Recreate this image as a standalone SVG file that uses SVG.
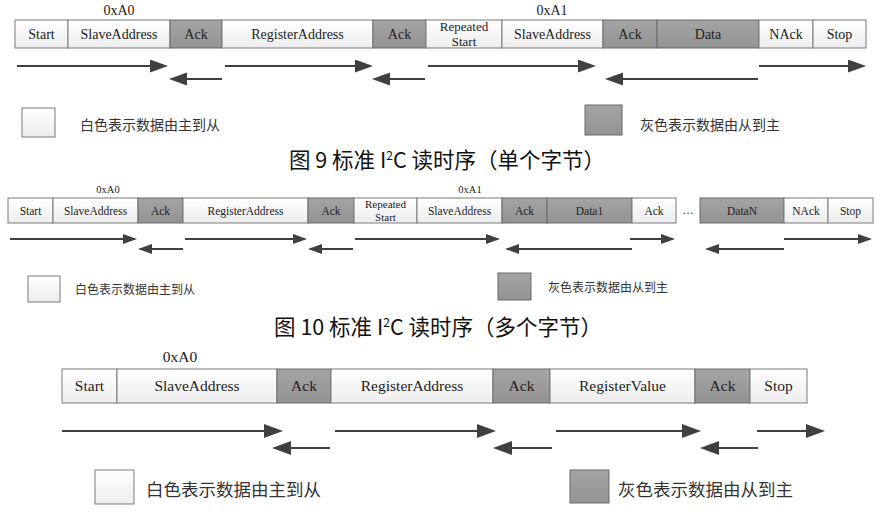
<svg xmlns="http://www.w3.org/2000/svg" width="885" height="513" viewBox="0 0 885 513">
<style>
.w{fill:url(#gw);stroke:#7a7a7a;stroke-width:1}
.g{fill:url(#gg);stroke:#6a6a6a;stroke-width:1}
.t1{font-family:"Liberation Serif",serif;font-size:14px;fill:#222;text-anchor:middle}
.t2{font-family:"Liberation Serif",serif;font-size:11.5px;fill:#222;text-anchor:middle}
.t3{font-family:"Liberation Serif",serif;font-size:15.5px;fill:#222;text-anchor:middle}
.lg1{font-family:"Noto Sans CJK SC",sans-serif;font-size:14px;fill:#333}
.lg2{font-family:"Noto Sans CJK SC",sans-serif;font-size:12px;fill:#333}
.lg3{font-family:"Noto Sans CJK SC",sans-serif;font-size:17.5px;fill:#333}
.cap{font-family:"Noto Sans CJK SC",sans-serif;font-size:21.5px;fill:#111;text-anchor:middle}
.a1{stroke:#404040;stroke-width:2;fill:none;marker-end:url(#h1)}
.a2{stroke:#404040;stroke-width:1.8;fill:none;marker-end:url(#h2)}
.a3{stroke:#404040;stroke-width:2.2;fill:none;marker-end:url(#h3)}
</style>
<defs>
<linearGradient id="gw" x1="0" y1="0" x2="0" y2="1"><stop offset="0" stop-color="#ffffff"/><stop offset="1" stop-color="#ededed"/></linearGradient>
<linearGradient id="gg" x1="0" y1="0" x2="0" y2="1"><stop offset="0" stop-color="#a4a4a4"/><stop offset="1" stop-color="#939393"/></linearGradient>
<marker id="h1" markerUnits="userSpaceOnUse" markerWidth="19" markerHeight="14" refX="15" refY="6.5" orient="auto"><path d="M0,0 L18,6.5 L0,13 z" fill="#404040"/></marker>
<marker id="h2" markerUnits="userSpaceOnUse" markerWidth="15" markerHeight="11" refX="12" refY="5" orient="auto"><path d="M0,0 L14,5 L0,10 z" fill="#404040"/></marker>
<marker id="h3" markerUnits="userSpaceOnUse" markerWidth="20" markerHeight="15" refX="16" refY="7" orient="auto"><path d="M0,0 L19,7 L0,14 z" fill="#404040"/></marker>
</defs>

<!-- Figure 9 -->
<g id="fig9">
<text class="t1" x="119" y="15">0xA0</text>
<text class="t1" x="552" y="15">0xA1</text>
<g id="f9-start"><rect class="w" x="15" y="20" width="53" height="28"/><text class="t1" x="41.5" y="39">Start</text></g>
<g id="f9-slave1"><rect class="w" x="68" y="20" width="102" height="28"/><text class="t1" x="119" y="39">SlaveAddress</text></g>
<g id="f9-ack1"><rect class="g" x="170" y="20" width="52" height="28"/><text class="t1" x="196" y="39">Ack</text></g>
<g id="f9-reg"><rect class="w" x="222" y="20" width="151" height="28"/><text class="t1" x="297.5" y="39">RegisterAddress</text></g>
<g id="f9-ack2"><rect class="g" x="373" y="20" width="53" height="28"/><text class="t1" x="399.5" y="39">Ack</text></g>
<g id="f9-rs"><rect class="w" x="426" y="20" width="76" height="28"/><text class="t1" x="464" y="31" style="font-size:13px">Repeated</text><text class="t1" x="464" y="45.5" style="font-size:13px">Start</text></g>
<g id="f9-slave2"><rect class="w" x="502" y="20" width="101" height="28"/><text class="t1" x="552.5" y="39">SlaveAddress</text></g>
<g id="f9-ack3"><rect class="g" x="603" y="20" width="54" height="28"/><text class="t1" x="630" y="39">Ack</text></g>
<g id="f9-data"><rect class="g" x="657" y="20" width="102" height="28"/><text class="t1" x="708" y="39">Data</text></g>
<g id="f9-nack"><rect class="w" x="759" y="20" width="54" height="28"/><text class="t1" x="786" y="39">NAck</text></g>
<g id="f9-stop"><rect class="w" x="813" y="20" width="53" height="28"/><text class="t1" x="839.5" y="39">Stop</text></g>
<g id="f9-leg-w"><rect class="w" x="22" y="108" width="33" height="29"/><text class="lg1" x="80" y="130">白色表示数据由主到从</text></g>
<g id="f9-leg-g"><rect class="g" x="585" y="105" width="37" height="30"/><text class="lg1" x="640" y="130">灰色表示数据由从到主</text></g>
<text class="cap" x="447" y="168">图 9 标准 I<tspan dy="-8" style="font-size:12px">2</tspan><tspan dy="8">C 读时序（单个字节）</tspan></text>
</g>
<g id="f9-connectors">
<line class="a1" x1="17" y1="66" x2="165" y2="66"/>
<line class="a1" x1="225" y1="66" x2="370" y2="66"/>
<line class="a1" x1="428" y1="66" x2="593" y2="66"/>
<line class="a1" x1="759" y1="66" x2="863" y2="66"/>
<line class="a1" x1="222" y1="79" x2="172" y2="79"/>
<line class="a1" x1="425" y1="79" x2="375" y2="79"/>
<line class="a1" x1="758" y1="79" x2="608" y2="79"/>
</g>

<!-- Figure 10 -->
<g id="fig10">
<text class="t2" x="108" y="193" style="font-size:10.5px">0xA0</text>
<text class="t2" x="470" y="193" style="font-size:10.5px">0xA1</text>
<g id="f10-start"><rect class="w" x="8" y="198" width="45" height="25"/><text class="t2" x="30.5" y="215">Start</text></g>
<g id="f10-slave1"><rect class="w" x="53" y="198" width="85" height="25"/><text class="t2" x="95.5" y="215">SlaveAddress</text></g>
<g id="f10-ack1"><rect class="g" x="138" y="198" width="45" height="25"/><text class="t2" x="160.5" y="215">Ack</text></g>
<g id="f10-reg"><rect class="w" x="183" y="198" width="125" height="25"/><text class="t2" x="245.5" y="215">RegisterAddress</text></g>
<g id="f10-ack2"><rect class="g" x="308" y="198" width="46" height="25"/><text class="t2" x="331" y="215">Ack</text></g>
<g id="f10-rs"><rect class="w" x="354" y="198" width="63" height="25"/><text class="t2" x="385.5" y="208" style="font-size:11px">Repeated</text><text class="t2" x="385.5" y="221" style="font-size:11px">Start</text></g>
<g id="f10-slave2"><rect class="w" x="417" y="198" width="85" height="25"/><text class="t2" x="459.5" y="215">SlaveAddress</text></g>
<g id="f10-ack3"><rect class="g" x="502" y="198" width="45" height="25"/><text class="t2" x="524.5" y="215">Ack</text></g>
<g id="f10-data1"><rect class="g" x="547" y="198" width="85" height="25"/><text class="t2" x="589.5" y="215">Data1</text></g>
<g id="f10-ack4"><rect class="w" x="632" y="198" width="44" height="25"/><text class="t2" x="654" y="215">Ack</text></g>
<text class="t2" x="688" y="214">…</text>
<g id="f10-datan"><rect class="g" x="700" y="198" width="84" height="25"/><text class="t2" x="742" y="215">DataN</text></g>
<g id="f10-nack"><rect class="w" x="784" y="198" width="44" height="25"/><text class="t2" x="806" y="215">NAck</text></g>
<g id="f10-stop"><rect class="w" x="828" y="198" width="45" height="25"/><text class="t2" x="850.5" y="215">Stop</text></g>
<g id="f10-leg-w"><rect class="w" x="28" y="276" width="32" height="26"/><text class="lg2" x="75" y="294">白色表示数据由主到从</text></g>
<g id="f10-leg-g"><rect class="g" x="498" y="273" width="33" height="27"/><text class="lg2" x="548" y="292">灰色表示数据由从到主</text></g>
<text class="cap" x="438" y="335">图 10 标准 I<tspan dy="-8" style="font-size:12px">2</tspan><tspan dy="8">C 读时序（多个字节）</tspan></text>
</g>
<g id="f10-connectors">
<line class="a2" x1="10" y1="239" x2="135" y2="239"/>
<line class="a2" x1="185" y1="239" x2="305" y2="239"/>
<line class="a2" x1="355" y1="239" x2="498" y2="239"/>
<line class="a2" x1="630" y1="239" x2="673" y2="239"/>
<line class="a2" x1="784" y1="239" x2="870" y2="239"/>
<line class="a2" x1="183" y1="249" x2="140" y2="249"/>
<line class="a2" x1="353" y1="249" x2="310" y2="249"/>
<line class="a2" x1="632" y1="249" x2="507" y2="249"/>
<line class="a2" x1="784" y1="249" x2="707" y2="249"/>
</g>

<!-- Figure: write -->
<g id="fig11">
<text class="t3" x="180" y="362">0xA0</text>
<g id="f11-start"><rect class="w" x="62" y="369" width="55" height="34"/><text class="t3" x="89.5" y="391">Start</text></g>
<g id="f11-slave"><rect class="w" x="117" y="369" width="160" height="34"/><text class="t3" x="197" y="391">SlaveAddress</text></g>
<g id="f11-ack1"><rect class="g" x="277" y="369" width="54" height="34"/><text class="t3" x="304" y="391">Ack</text></g>
<g id="f11-reg"><rect class="w" x="331" y="369" width="162" height="34"/><text class="t3" x="412" y="391">RegisterAddress</text></g>
<g id="f11-ack2"><rect class="g" x="493" y="369" width="57" height="34"/><text class="t3" x="521.5" y="391">Ack</text></g>
<g id="f11-val"><rect class="w" x="550" y="369" width="145" height="34"/><text class="t3" x="622.5" y="391">RegisterValue</text></g>
<g id="f11-ack3"><rect class="g" x="695" y="369" width="55" height="34"/><text class="t3" x="722.5" y="391">Ack</text></g>
<g id="f11-stop"><rect class="w" x="750" y="369" width="57" height="34"/><text class="t3" x="778.5" y="391">Stop</text></g>
<g id="f11-leg-w"><rect class="w" x="95" y="470" width="39" height="34"/><text class="lg3" x="146" y="496">白色表示数据由主到从</text></g>
<g id="f11-leg-g"><rect class="g" x="570" y="470" width="39" height="33"/><text class="lg3" x="618" y="496">灰色表示数据由从到主</text></g>
</g>
<g id="f11-connectors">
<line class="a3" x1="62" y1="431" x2="280" y2="431"/>
<line class="a3" x1="335" y1="431" x2="493" y2="431"/>
<line class="a3" x1="556" y1="431" x2="698" y2="431"/>
<line class="a3" x1="757" y1="431" x2="822" y2="431"/>
<line class="a3" x1="330" y1="448" x2="275" y2="448"/>
<line class="a3" x1="552" y1="448" x2="496" y2="448"/>
<line class="a3" x1="758" y1="448" x2="703" y2="448"/>
</g>
</svg>
